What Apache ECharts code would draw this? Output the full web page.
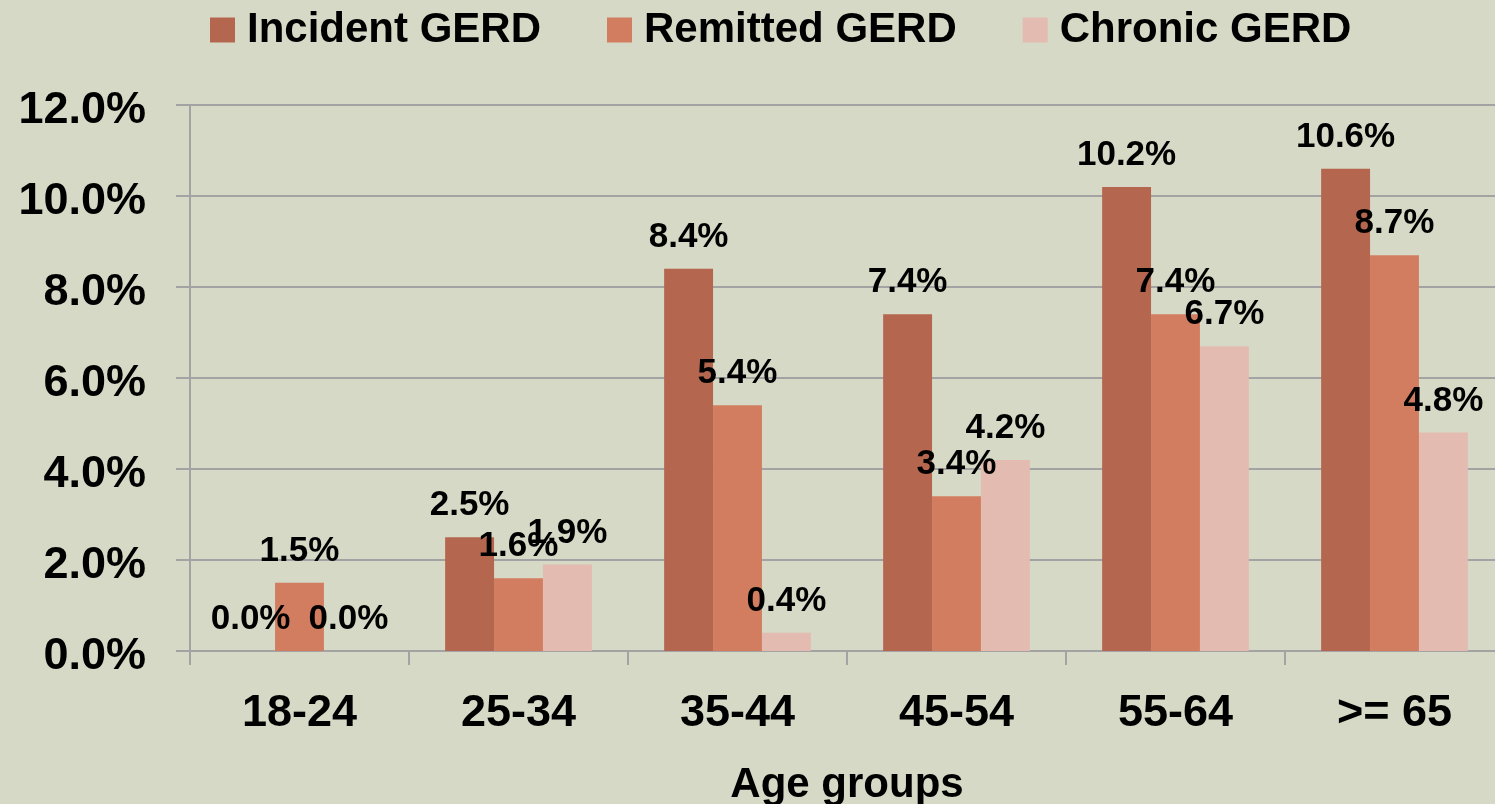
<!DOCTYPE html>
<html>
<head>
<meta charset="utf-8">
<script src="https://cdn.jsdelivr.net/npm/echarts@6/dist/echarts.min.js"></script>
<style>
  html, body { margin: 0; padding: 0; background: #d6d9c5; }
  #chart { width: 1495px; height: 804px; }
</style>
</head>
<body>
<div id="chart"></div>
<script>
const ageGroups = ['18-24', '25-34', '35-44', '45-54', '55-64', '>= 65'];
const incident = [0.0, 2.5, 8.4, 7.4, 10.2, 10.6];
const remitted = [1.5, 1.6, 5.4, 3.4, 7.4, 8.7];
const chronic = [0.0, 1.9, 0.4, 4.2, 6.7, 4.8];
const seriesNames = ['Incident GERD', 'Remitted GERD', 'Chronic GERD'];
const colors = ['#b5664f', '#d27d60', '#e3bbb1'];

const font = '"Liberation Sans", Arial, sans-serif';
const gridColor = '#a3a3a3';

const myChart = echarts.init(document.getElementById('chart'));

const makeSeries = (name, data, color) => ({
  name,
  type: 'bar',
  data,
  barGap: '0%',
  barCategoryGap: '33%',
  itemStyle: { color },
  label: {
    show: true,
    position: 'top',
    distance: 14,
    color: '#000',
    fontFamily: font,
    fontWeight: 'bold',
    fontSize: 35,
    formatter: p => p.value.toFixed(1) + '%'
  }
});

myChart.setOption({
  backgroundColor: '#d6d9c5',
  animation: false,
  color: colors,
  legend: {
    top: 4,
    left: 205,
    itemWidth: 25,
    itemHeight: 25,
    itemGap: 66,
    icon: 'rect',
    textStyle: {
      fontFamily: font,
      fontWeight: 'bold',
      fontSize: 42,
      color: '#000',
      padding: [0, 0, 0, 7]
    },
    data: seriesNames
  },
  grid: { left: 190, right: -9, top: 105, bottom: 153, containLabel: false, outerBoundsMode: 'none' },
  xAxis: {
    type: 'category',
    data: ageGroups,
    name: 'Age groups',
    nameLocation: 'middle',
    nameGap: 113,
    nameTextStyle: { fontFamily: font, fontWeight: 'bold', fontSize: 42, color: '#000' },
    axisLine: { lineStyle: { color: gridColor, width: 2 } },
    axisTick: { show: true, length: 14, lineStyle: { color: gridColor, width: 2 } },
    axisLabel: {
      margin: 40,
      color: '#000',
      fontFamily: font,
      fontWeight: 'bold',
      fontSize: 45
    },
    splitLine: { show: false }
  },
  yAxis: {
    type: 'value',
    min: 0,
    max: 12,
    interval: 2,
    axisLine: { show: true, lineStyle: { color: gridColor, width: 2 } },
    axisTick: { show: true, length: 14, lineStyle: { color: gridColor, width: 2 } },
    axisLabel: {
      margin: 44,
      color: '#000',
      fontFamily: font,
      fontWeight: 'bold',
      fontSize: 45,
      formatter: v => '{v|' + v.toFixed(1) + '%}',
      rich: {
        v: {
          fontFamily: font,
          fontWeight: 'bold',
          fontSize: 45,
          color: '#000',
          padding: [12, 0, 0, 0]
        }
      }
    },
    splitLine: { show: true, lineStyle: { color: gridColor, width: 2 } }
  },
  series: [
    makeSeries(seriesNames[0], incident, colors[0]),
    makeSeries(seriesNames[1], remitted, colors[1]),
    makeSeries(seriesNames[2], chronic, colors[2])
  ]
});
</script>
</body>
</html>
